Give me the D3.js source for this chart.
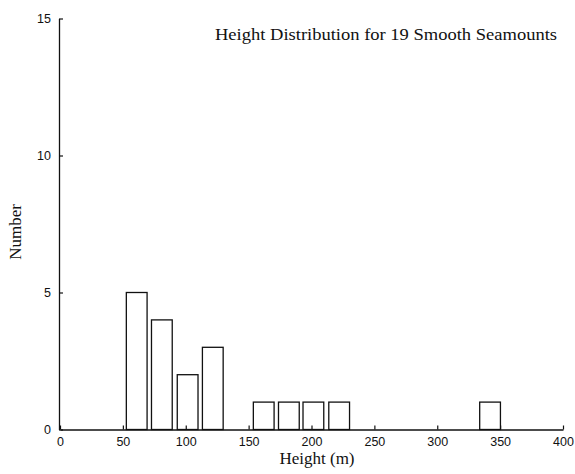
<!DOCTYPE html>
<html>
<head>
<meta charset="utf-8">
<script src="https://cdn.jsdelivr.net/npm/d3@7"></script>
<style>
  body { margin: 0; background: #fff; }
</style>
</head>
<body>
<svg id="chart"></svg>
<script>
const width = 575, height = 474;

// Histogram data: bin centres (m) and counts
const binCentres = [61, 81, 101.5, 121.5, 162, 182, 201.5, 222, 342];
const counts = [5, 4, 2, 3, 1, 1, 1, 1, 1];
const barWidth = 16.5; // in metres
const xTicks = [0, 50, 100, 150, 200, 250, 300, 350, 400];
const yTicks = [0, 5, 10, 15];

const svg = d3.select("#chart")
    .attr("width", width)
    .attr("height", height)
    .style("background", "#fff");

const xScale = d3.scaleLinear()
    .domain([0, 400])
    .range([60, 563]);

const yScale = d3.scaleLinear()
    .domain([0, 15])
    .range([429.5, 18.5]);

const data = binCentres.map((c, i) => ({ centre: c, count: counts[i] }));

// Bars
svg.selectAll("rect.bar")
    .data(data)
    .enter().append("rect")
    .attr("class", "bar")
    .attr("x", d => xScale(d.centre - barWidth / 2))
    .attr("y", d => yScale(d.count))
    .attr("width", d => xScale(d.centre + barWidth / 2) - xScale(d.centre - barWidth / 2))
    .attr("height", d => yScale(0) - yScale(d.count))
    .attr("fill", "white")
    .attr("stroke", "#111")
    .attr("stroke-width", 1.3);

// x axis
const xAxis = svg.append("g")
    .attr("transform", `translate(0, ${yScale(0)})`)
    .call(d3.axisBottom(xScale).tickValues(xTicks).tickSize(-4).tickPadding(8).tickSizeOuter(0));

// y axis
const yAxis = svg.append("g")
    .attr("transform", `translate(${xScale(0) - 1}, 0)`)
    .call(d3.axisLeft(yScale).tickValues(yTicks).tickSize(4).tickPadding(4).tickSizeOuter(0));

[xAxis, yAxis].forEach(a => {
    a.select(".domain").attr("stroke", "#111").attr("stroke-width", 1.3);
    a.selectAll(".tick line").attr("stroke", "#111").attr("stroke-width", 1.2);
    a.selectAll(".tick text")
        .attr("fill", "#111")
        .style("font-family", "'Liberation Sans', Arial, sans-serif")
        .style("font-size", "12.5px");
});
yAxis.selectAll(".tick line").attr("x2", 4);

// Title
svg.append("text")
    .attr("x", 215)
    .attr("y", 40)
    .attr("textLength", 342)
    .attr("lengthAdjust", "spacingAndGlyphs")
    .style("font-family", "'Liberation Serif', 'Times New Roman', serif")
    .style("font-size", "16px")
    .attr("fill", "#111")
    .text("Height Distribution for 19 Smooth Seamounts");

// x-axis label
svg.append("text")
    .attr("x", 317)
    .attr("y", 464)
    .attr("text-anchor", "middle")
    .style("font-family", "'Liberation Serif', 'Times New Roman', serif")
    .style("font-size", "17px")
    .attr("fill", "#111")
    .text("Height (m)");

// y-axis label
svg.append("text")
    .attr("transform", "translate(21, 232) rotate(-90)")
    .attr("text-anchor", "middle")
    .style("font-family", "'Liberation Serif', 'Times New Roman', serif")
    .style("font-size", "17px")
    .attr("fill", "#111")
    .text("Number");
</script>
</body>
</html>
